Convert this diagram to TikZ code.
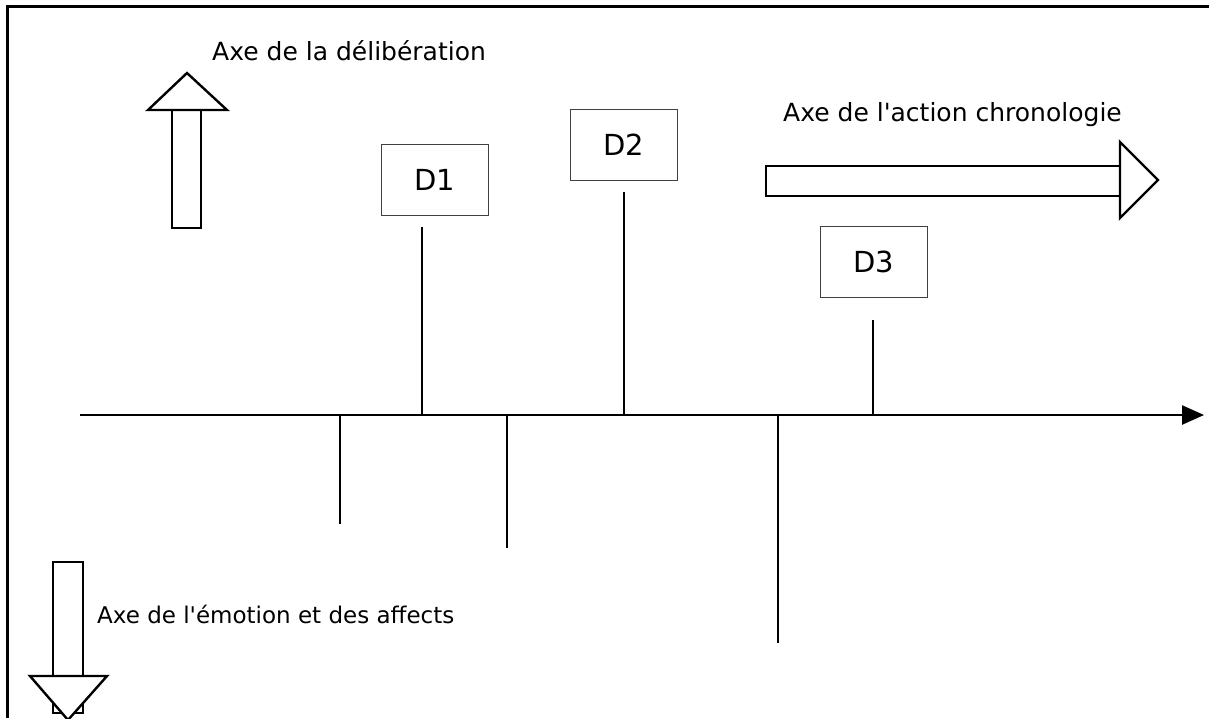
\documentclass[tikz,border=0pt]{standalone}
\usepackage{fontspec}
\setmainfont{DejaVu Sans}
\usetikzlibrary{arrows.meta}

\begin{document}
\begin{tikzpicture}[x=1pt,y=-1pt,
	decbox/.style={draw=black!75,line width=1pt,minimum width=107pt,minimum height=71pt,inner sep=0pt,font=\fontsize{29}{34}\selectfont},
	axelabel/.style={anchor=base west,inner sep=0pt,font=\fontsize{25}{30}\selectfont},
	stem/.style={line width=2.6pt},
	bigarrow/.style={draw,line width=2.4pt,fill=white,line join=miter}]
		\useasboundingbox (0,0) rectangle (1209,718);
		\draw[line width=3pt] (7,718) -- (7,6) -- (1209,6);
		
		\filldraw[bigarrow] (172,228) rectangle (201,110);
		\filldraw[bigarrow] (148,110) -- (187,73) -- (227,110) -- cycle;
		\filldraw[bigarrow] (766,166) rectangle (1120,196);
		\filldraw[bigarrow] (1120,142) -- (1158,180) -- (1120,218) -- cycle;
		\filldraw[bigarrow] (53,562) rectangle (83,713);
		\filldraw[bigarrow] (30,676) -- (107,676) -- (68,720) -- cycle;
		
		\node[axelabel] (deliberation) at (212,60){Axe de la délibération};
		\node[axelabel] (action) at (783,121){Axe de l\textquotesingle action chronologie};
		\node[axelabel,font=\fontsize{23}{28}\selectfont] (emotion) at (97,623){Axe de l\textquotesingle émotion et des affects};
		
		\node[decbox] (D1) at (434.5,180){D1};
		\node[decbox] (D2) at (623.5,144.5){D2};
		\node[decbox] (D3) at (873.5,262){D3};
		
		\coordinate (axstart) at (80,415);
		\coordinate (axend) at (1204,415);
		\draw[stem,-{Triangle[length=22pt,width=19pt]}] (axstart) -- (axend);
		
		\coordinate (up1) at (422,227);
		\coordinate (up2) at (624,192);
		\coordinate (up3) at (873,320);
		\coordinate (down1) at (340,524);
		\coordinate (down2) at (507,548);
		\coordinate (down3) at (778,643);
		\foreach \s in {up1,up2,up3}
			\draw[stem] (\s) -- (\s |- axstart);
		\foreach \s in {down1,down2,down3}
			\draw[stem] (\s |- axstart) -- (\s);
	\end{tikzpicture}
\end{document}
